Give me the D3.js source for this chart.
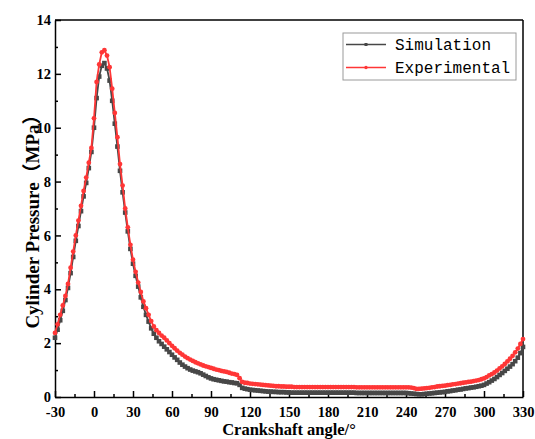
<!DOCTYPE html>
<html>
<head>
<meta charset="utf-8">
<script src="https://cdn.jsdelivr.net/npm/d3@7"></script>
<style>
  body { margin: 0; background: #fff; }
  .tick text { font-family: "Liberation Serif", "Times New Roman", serif; font-weight: bold; font-size: 14.5px; fill: #000; }
  .axis path, .axis line { stroke: #000; stroke-width: 1.5; }
</style>
</head>
<body>
<svg width="535" height="439"></svg>
<script>
// crank angle, every 2 degrees from -30 to 330
const angles = d3.range(-30, 331, 2);

// cylinder pressure (MPa)
const simulation = [
  2.20, 2.50, 2.85, 3.20, 3.60, 4.05, 4.60, 5.20, 5.80, 6.35,
  6.90, 7.45, 7.95, 8.50, 9.10, 10.00, 11.10, 11.90, 12.30, 12.40,
  12.20, 11.75, 11.00, 10.15, 9.30, 8.40, 7.60, 6.85, 6.15, 5.50,
  4.95, 4.50, 4.10, 3.70, 3.35, 3.05, 2.80, 2.55, 2.35, 2.20,
  2.07, 1.97, 1.87, 1.77, 1.67, 1.57, 1.47, 1.38, 1.28, 1.20,
  1.13, 1.07, 1.02, 0.98, 0.95, 0.92, 0.88, 0.83, 0.78, 0.73,
  0.69, 0.66, 0.64, 0.62, 0.60, 0.58, 0.57, 0.55, 0.54, 0.52,
  0.51, 0.45, 0.34, 0.31, 0.29, 0.27, 0.26, 0.25, 0.24, 0.23,
  0.22, 0.21, 0.20, 0.20, 0.19, 0.19, 0.18, 0.18, 0.18, 0.17,
  0.17, 0.16, 0.16, 0.16, 0.16, 0.16, 0.16, 0.16, 0.16, 0.16,
  0.16, 0.16, 0.16, 0.16, 0.16, 0.16, 0.16, 0.16, 0.16, 0.16,
  0.16, 0.16, 0.16, 0.16, 0.16, 0.16, 0.15, 0.15, 0.15, 0.15,
  0.15, 0.15, 0.15, 0.15, 0.15, 0.15, 0.15, 0.15, 0.15, 0.15,
  0.15, 0.15, 0.15, 0.15, 0.15, 0.15, 0.14, 0.13, 0.12, 0.11,
  0.10, 0.10, 0.11, 0.12, 0.13, 0.14, 0.15, 0.16, 0.17, 0.18,
  0.19, 0.21, 0.22, 0.24, 0.25, 0.27, 0.28, 0.30, 0.32, 0.33,
  0.35, 0.36, 0.38, 0.40, 0.42, 0.45, 0.50, 0.55, 0.61, 0.67,
  0.74, 0.82, 0.89, 0.97, 1.05, 1.13, 1.22, 1.33, 1.46, 1.63,
  1.86
];

const experimental = [
  2.38, 2.70, 3.05, 3.40, 3.75, 4.20, 4.80, 5.40, 6.00, 6.55,
  7.10, 7.65, 8.15, 8.70, 9.25, 10.35, 11.70, 12.35, 12.80, 12.88,
  12.68, 12.25, 11.45, 10.55, 9.65, 8.65, 7.85, 7.00, 6.30, 5.65,
  5.10, 4.65, 4.25, 3.90, 3.55, 3.30, 3.05, 2.82, 2.62, 2.48,
  2.38, 2.28, 2.20, 2.10, 2.00, 1.90, 1.81, 1.72, 1.64, 1.57,
  1.50, 1.44, 1.39, 1.34, 1.29, 1.25, 1.21, 1.17, 1.14, 1.11,
  1.08, 1.05, 1.02, 1.00, 0.97, 0.95, 0.93, 0.90, 0.87, 0.85,
  0.82, 0.70, 0.56, 0.53, 0.52, 0.50, 0.49, 0.48, 0.47, 0.46,
  0.45, 0.44, 0.43, 0.42, 0.41, 0.40, 0.40, 0.39, 0.39, 0.38,
  0.38, 0.38, 0.37, 0.37, 0.37, 0.37, 0.37, 0.37, 0.37, 0.37,
  0.37, 0.37, 0.37, 0.37, 0.37, 0.37, 0.37, 0.37, 0.37, 0.37,
  0.37, 0.37, 0.37, 0.37, 0.37, 0.37, 0.36, 0.36, 0.36, 0.36,
  0.36, 0.36, 0.36, 0.36, 0.36, 0.36, 0.36, 0.36, 0.36, 0.36,
  0.36, 0.36, 0.36, 0.36, 0.36, 0.36, 0.36, 0.35, 0.33, 0.30,
  0.30, 0.31, 0.32, 0.33, 0.34, 0.36, 0.37, 0.39, 0.40, 0.41,
  0.42, 0.44, 0.45, 0.47, 0.48, 0.50, 0.51, 0.53, 0.54, 0.56,
  0.57, 0.59, 0.61, 0.63, 0.66, 0.69, 0.74, 0.80, 0.85, 0.91,
  0.98, 1.06, 1.14, 1.23, 1.32, 1.42, 1.53, 1.66, 1.80, 1.97,
  2.15
];

const xTicks = d3.range(-30, 331, 30);
const yTicks = d3.range(0, 15, 2);

const svg = d3.select("svg");
const plotLeft = 55, plotRight = 523, plotTop = 20, plotBottom = 397;

const x = d3.scaleLinear().domain([-30, 330]).range([plotLeft, plotRight]);
const y = d3.scaleLinear().domain([0, 14]).range([plotBottom, plotTop]);

// minor ticks
svg.append("g")
    .attr("class", "axis")
    .attr("transform", `translate(0,${plotBottom})`)
    .call(d3.axisBottom(x).tickValues(d3.range(-15, 330, 30)).tickSize(-3).tickFormat(""))
    .call(g => g.select(".domain").remove());
svg.append("g")
    .attr("class", "axis")
    .attr("transform", `translate(${plotLeft},0)`)
    .call(d3.axisLeft(y).tickValues(d3.range(1, 14, 2)).tickSize(-3).tickFormat(""))
    .call(g => g.select(".domain").remove());

// major ticks + labels (plain hyphen for negatives)
svg.append("g")
    .attr("class", "axis")
    .attr("transform", `translate(0,${plotBottom})`)
    .call(d3.axisBottom(x).tickValues(xTicks).tickFormat(d => String(d))
        .tickSizeInner(-6).tickSizeOuter(0).tickPadding(9.5));
svg.append("g")
    .attr("class", "axis")
    .attr("transform", `translate(${plotLeft},0)`)
    .call(d3.axisLeft(y).tickValues(yTicks).tickFormat(d => String(d))
        .tickSizeInner(-6).tickSizeOuter(0).tickPadding(4));

// top and right frame
svg.append("line").attr("x1", plotLeft).attr("x2", plotRight).attr("y1", plotTop).attr("y2", plotTop)
    .attr("stroke", "#000").attr("stroke-width", 1.5);
svg.append("line").attr("x1", plotRight).attr("x2", plotRight).attr("y1", plotTop).attr("y2", plotBottom)
    .attr("stroke", "#000").attr("stroke-width", 1.5);

const line = d3.line().x((d, i) => x(angles[i])).y(d => y(d));

const series = [
  {name: "Simulation", values: simulation, color: "#474747", shape: "square"},
  {name: "Experimental", values: experimental, color: "#ff3636", shape: "circle"}
];

function drawMarker(g, s, cx, cy) {
  if (s.shape === "square") {
    g.append("rect").attr("x", cx - 2.3).attr("y", cy - 2.3).attr("width", 4.6).attr("height", 4.6)
        .attr("fill", s.color);
  } else {
    g.append("circle").attr("cx", cx).attr("cy", cy).attr("r", 2.4).attr("fill", s.color);
  }
}

series.forEach(s => {
  const g = svg.append("g");
  g.append("path")
      .attr("d", line(s.values))
      .attr("fill", "none")
      .attr("stroke", s.color)
      .attr("stroke-width", 1.8);
  s.values.forEach((v, i) => drawMarker(g, s, x(angles[i]), y(v)));
});

// legend
const legend = svg.append("g");
legend.append("rect")
    .attr("x", 343).attr("y", 33).attr("width", 173).attr("height", 47)
    .attr("fill", "#fff").attr("stroke", "#9a9a9a").attr("stroke-width", 1);
series.forEach((s, i) => {
  const ly = 44.5 + i * 23;
  legend.append("line").attr("x1", 346).attr("x2", 386).attr("y1", ly).attr("y2", ly)
      .attr("stroke", s.color).attr("stroke-width", 1.6);
  legend.append(s.shape === "square" ? "rect" : "circle")
      .call(m => s.shape === "square"
        ? m.attr("x", 364.5).attr("y", ly - 1.5).attr("width", 3).attr("height", 3)
        : m.attr("cx", 366).attr("cy", ly).attr("r", 1.7))
      .attr("fill", s.color);
  legend.append("text")
      .attr("x", 395).attr("y", ly + 5.5)
      .attr("font-family", "Liberation Mono, monospace")
      .attr("font-size", 16)
      .text(s.name);
});

// axis titles
svg.append("text")
    .attr("x", 289).attr("y", 435)
    .attr("text-anchor", "middle")
    .attr("font-family", "Liberation Serif, 'Noto Sans CJK SC', serif")
    .attr("font-weight", "bold")
    .attr("font-size", 16.5)
    .text("Crankshaft angle/°");

svg.append("text")
    .attr("transform", "translate(39,217) rotate(-90)")
    .attr("text-anchor", "middle")
    .attr("font-family", "Liberation Serif, 'Noto Sans CJK SC', serif")
    .attr("font-weight", "bold")
    .attr("font-size", 19)
    .text("Cylinder Pressure（MPa）");
</script>
</body>
</html>
